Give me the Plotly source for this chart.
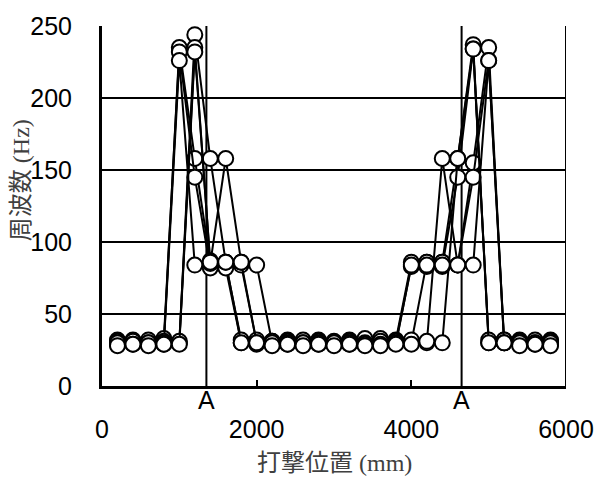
import plotly.graph_objects as go

# Hammering positions (mm)
positions = [200, 400, 600, 800, 1000, 1200, 1400, 1600, 1800, 2000, 2200, 2400, 2600, 2800,
             3000, 3200, 3400, 3600, 3800, 4000, 4200, 4400, 4600, 4800, 5000, 5200, 5400, 5600, 5800]

# Frequencies (Hz) for each series
s1 = [30, 30, 31, 30, 235, 158, 86, 86, 30, 30, 30, 30, 31, 30, 30, 30, 31, 30, 30, 83, 86, 86, 158, 237, 30, 30, 30, 31, 30]
s2 = [32, 32, 32, 33, 232, 145, 82, 85, 32, 32, 31, 32, 32, 32, 31, 32, 33, 33, 32, 86, 83, 83, 145, 234, 32, 32, 32, 32, 32]
s3 = [29, 30, 29, 29, 226, 84, 87, 82, 30, 29, 29, 29, 29, 29, 29, 29, 29, 29, 30, 30, 86, 86, 84, 155, 235, 30, 29, 29, 29]
s4 = [31, 31, 30, 31, 30, 244, 158, 86, 84, 30, 31, 31, 30, 31, 30, 31, 30, 31, 31, 32, 30, 158, 84, 145, 226, 32, 31, 30, 31]
s5 = [30, 29, 30, 30, 31, 235, 85, 158, 86, 84, 30, 30, 30, 30, 30, 30, 29, 29, 30, 29, 31, 30, 158, 234, 30, 30, 30, 30, 30]
s6 = [28, 29, 28, 29, 29, 232, 86, 86, 86, 30, 28, 29, 28, 29, 28, 29, 28, 28, 29, 84, 84, 84, 84, 84, 226, 30, 28, 29, 28]
series = [s1, s2, s3, s4, s5, s6]

support_positions = [1350, 4650]
support_labels = ["A", "A"]
x_ticks = [0, 2000, 4000, 6000]
y_ticks = [0, 50, 100, 150, 200, 250]

fig = go.Figure()
for s in series:
    fig.add_trace(go.Scatter(
        x=positions, y=s, mode="lines+markers",
        line=dict(color="black", width=2),
        marker=dict(size=15, color="white", line=dict(color="black", width=2)),
        showlegend=False, cliponaxis=False))

for xp, lab in zip(support_positions, support_labels):
    fig.add_shape(type="line", xref="x", yref="y", x0=xp, x1=xp, y0=0, y1=250,
                  line=dict(color="black", width=2), layer="below")
    fig.add_annotation(x=xp, y=0, xref="x", yref="y", text=lab, showarrow=False,
                       yanchor="top", yshift=2,
                       font=dict(family="Liberation Sans, Arial", size=25, color="black"))

# right border
fig.add_shape(type="line", xref="x", yref="y", x0=6000, x1=6000, y0=0, y1=250,
              line=dict(color="black", width=2), layer="below")

title_font = dict(family="Liberation Serif, Noto Sans CJK JP", size=24, color="#404040")
fig.add_annotation(xref="paper", yref="paper", x=0.5, y=-0.215, text="打撃位置 (mm)",
                   showarrow=False, xanchor="center", yanchor="middle", font=title_font)
fig.add_annotation(xref="paper", yref="paper", x=-0.173, y=0.571, text="周波数 (Hz)",
                   showarrow=False, xanchor="center", yanchor="middle", textangle=-90,
                   font=title_font)

fig.update_layout(
    width=606, height=482,
    margin=dict(l=102, r=31, t=18, b=96),
    paper_bgcolor="white", plot_bgcolor="white",
    font=dict(family="Liberation Sans, Arial", size=25, color="black"),
)
fig.update_xaxes(range=[0, 6000], tickvals=x_ticks, showgrid=False, zeroline=False,
                 showline=True, linecolor="black", linewidth=3,
                 ticks="inside", ticklen=6, tickwidth=2, tickcolor="black",
                 ticklabelstandoff=19,
                 tickfont=dict(family="Liberation Sans, Arial", size=25, color="black"))
fig.update_yaxes(range=[0, 250], tickvals=y_ticks, showgrid=True, gridcolor="black", gridwidth=2,
                 zeroline=False, showline=True, linecolor="black", linewidth=3,
                 ticks="", ticklabelstandoff=22,
                 tickfont=dict(family="Liberation Sans, Arial", size=25, color="black"))

fig.write_html("out.html")
